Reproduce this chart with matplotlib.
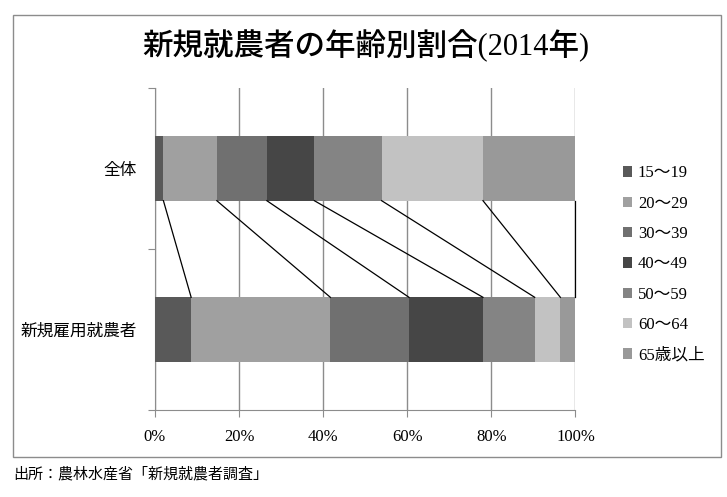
import matplotlib.pyplot as plt
import numpy as np
from matplotlib.patches import Rectangle

plt.rcParams['font.family'] = ['Liberation Serif', 'Noto Sans CJK JP']

categories = ['全体', '新規雇用就農者']
ages = ['15～19', '20～29', '30～39', '40～49', '50～59', '60～64', '65歳以上']
colors = ['#595959', '#a0a0a0', '#707070', '#464646', '#848484', '#c2c2c2', '#999999']
# percent shares per age group
share_all = [2.0, 12.7, 11.9, 11.3, 16.0, 24.1, 22.0]
share_hired = [8.6, 33.1, 18.7, 17.6, 12.3, 6.1, 3.6]
xticks = [0, 20, 40, 60, 80, 100]
xticklabels = ['0%', '20%', '40%', '60%', '80%', '100%']

grey = '#8c8c8c'
h = 0.4

fig = plt.figure(figsize=(7.27, 4.97), dpi=100)
ax = fig.add_axes([0.2132, 0.175, 0.5784, 0.648])

data = np.array([share_all, share_hired])
left = np.zeros(2)
handles = []
for i, age in enumerate(ages):
    b = ax.barh([0, 1], data[:, i], left=left, height=h, color=colors[i],
                edgecolor='none', label=age, zorder=3)
    handles.append(b)
    left = left + data[:, i]

# connector lines between cumulative boundaries
cum = np.cumsum(data, axis=1)
for i in range(len(ages)):
    ax.plot([cum[0, i], cum[1, i]], [0 + h / 2, 1 - h / 2], color='black',
            lw=0.9, zorder=4, clip_on=False)

ax.set_xlim(0, 100)
ax.set_ylim(1.5, -0.5)
ax.set_xticks(xticks)
ax.set_xticklabels(xticklabels, fontsize=12)
ax.xaxis.grid(True, color=grey, lw=1)
ax.set_axisbelow(True)

ax.set_yticks([-0.5, 0.5, 1.5])
ax.set_yticklabels([])
ax.set_yticks([0, 1], minor=True)
ax.set_yticklabels(categories, minor=True, fontsize=12,
                   family=['Noto Sans CJK JP'])
ax.tick_params(axis='y', which='minor', length=0, pad=13)
ax.tick_params(axis='y', which='major', length=5, color=grey)
ax.tick_params(axis='x', length=5, color=grey, pad=9)

for s in ['top', 'right']:
    ax.spines[s].set_visible(False)
for s in ['left', 'bottom']:
    ax.spines[s].set_color(grey)

leg = fig.legend(handles=handles, loc='center left',
                 bbox_to_anchor=(0.836, 0.468), frameon=False, fontsize=12,
                 handlelength=0.55, handleheight=0.55, handletextpad=0.35,
                 labelspacing=0.86)

fig.text(0.503, 0.907, '新規就農者の年齢別割合(2014年)', ha='center', va='center',
         fontsize=22, fontweight='medium')
fig.text(0.018, 0.046, '出所：農林水産省「新規就農者調査」', ha='left', va='center',
         fontsize=10.8, family=['Noto Sans CJK JP'])

fig.patches.append(Rectangle((0.0175, 0.0805), 0.9742, 0.8885,
                             transform=fig.transFigure, fill=False,
                             edgecolor=grey, lw=1))

fig.savefig('out.png', dpi=100)
